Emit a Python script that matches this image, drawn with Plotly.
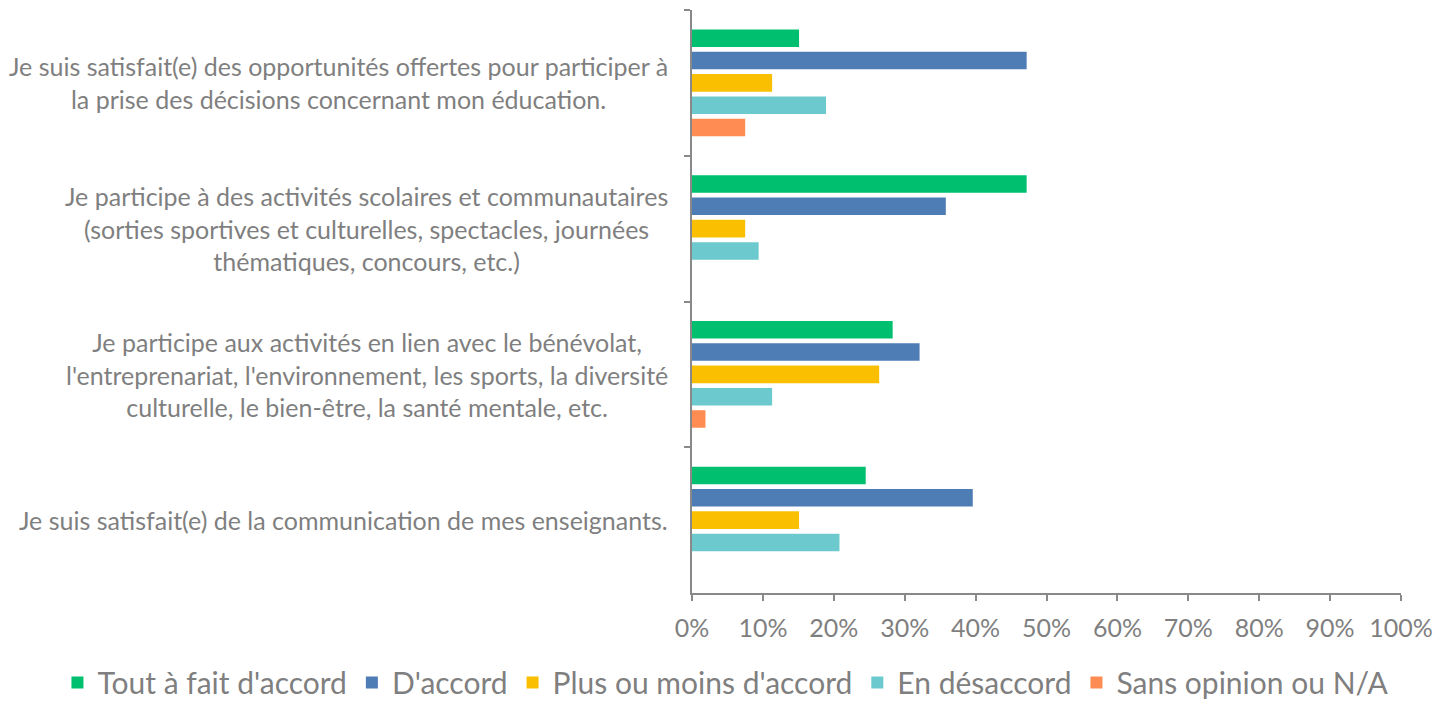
import plotly.graph_objects as go

categories = [
    "Je suis satisfait(e) des opportunités offertes pour participer à<br>la prise des décisions concernant mon éducation.",
    "Je participe à des activités scolaires et communautaires<br>(sorties sportives et culturelles, spectacles, journées<br>thématiques, concours, etc.)",
    "Je participe aux activités en lien avec le bénévolat,<br>l'entreprenariat, l'environnement, les sports, la diversité<br>culturelle, le bien-être, la santé mentale, etc.",
    "Je suis satisfait(e) de la communication de mes enseignants.",
]

series_names = [
    "Tout à fait d'accord",
    "D'accord",
    "Plus ou moins d'accord",
    "En désaccord",
    "Sans opinion ou N/A",
]

tout_a_fait = [15.1, 47.2, 28.3, 24.5]
d_accord = [47.2, 35.8, 32.1, 39.6]
plus_ou_moins = [11.3, 7.5, 26.4, 15.1]
en_desaccord = [18.9, 9.4, 11.3, 20.8]
sans_opinion = [7.5, 0.0, 1.9, 0.0]

x_tick_values = [0, 10, 20, 30, 40, 50, 60, 70, 80, 90, 100]
x_tick_labels = ["0%", "10%", "20%", "30%", "40%", "50%", "60%", "70%", "80%", "90%", "100%"]

colors = ["#00BF6F", "#4E7CB4", "#F9BF00", "#6CC9CD", "#FF8C52"]
values = [tout_a_fait, d_accord, plus_ou_moins, en_desaccord, sans_opinion]

FONT = "Lato"
GREY = "#7F7F7F"
AXIS = "#898989"

fig = go.Figure()
for name, vals, col in zip(series_names, values, colors):
    fig.add_trace(go.Bar(
        y=categories, x=vals, name=name, orientation="h",
        marker=dict(color=col, line=dict(width=0)),
        hovertemplate="%{x:.1f}%<extra>" + name + "</extra>",
    ))

for cat in categories:
    fig.add_annotation(
        x=0, xref="paper", y=cat, yref="y",
        text=cat, showarrow=False, xanchor="right", yanchor="middle",
        xshift=-22, align="center",
        font=dict(family=FONT, size=25, color=GREY),
    )

fig.update_layout(
    width=1433, height=701,
    margin=dict(l=692, r=32, t=10, b=108, autoexpand=False),
    paper_bgcolor="white", plot_bgcolor="white",
    barmode="group", bargap=0.235, bargroupgap=0.215,
    font=dict(family=FONT, size=25, color=GREY),
    showlegend=True,
    legend=dict(
        orientation="h", xref="paper", x=-0.895, xanchor="left",
        yref="paper", y=-0.1535, yanchor="middle",
        font=dict(family=FONT, size=30, color=GREY),
        tracegroupgap=0, itemwidth=30,
    ),
    xaxis=dict(
        range=[0, 100], tickvals=x_tick_values, ticktext=x_tick_labels,
        showgrid=False, zeroline=False,
        showline=True, linecolor=AXIS, linewidth=2,
        ticks="outside", ticklen=6, tickwidth=2, tickcolor=AXIS,
        tickfont=dict(family=FONT, size=25, color=GREY),
        ticklabelstandoff=6,
    ),
    yaxis=dict(
        autorange="reversed", type="category",
        showgrid=False, zeroline=False,
        showline=True, linecolor=AXIS, linewidth=2,
        ticks="outside", ticklen=6, tickwidth=2, tickcolor=AXIS,
        tickson="boundaries", showticklabels=False,
    ),
)

fig.write_html(
    "out.html",
    config={"displayModeBar": False},
    post_script="document.body.style.margin='0';document.body.style.overflow='hidden';",
)
